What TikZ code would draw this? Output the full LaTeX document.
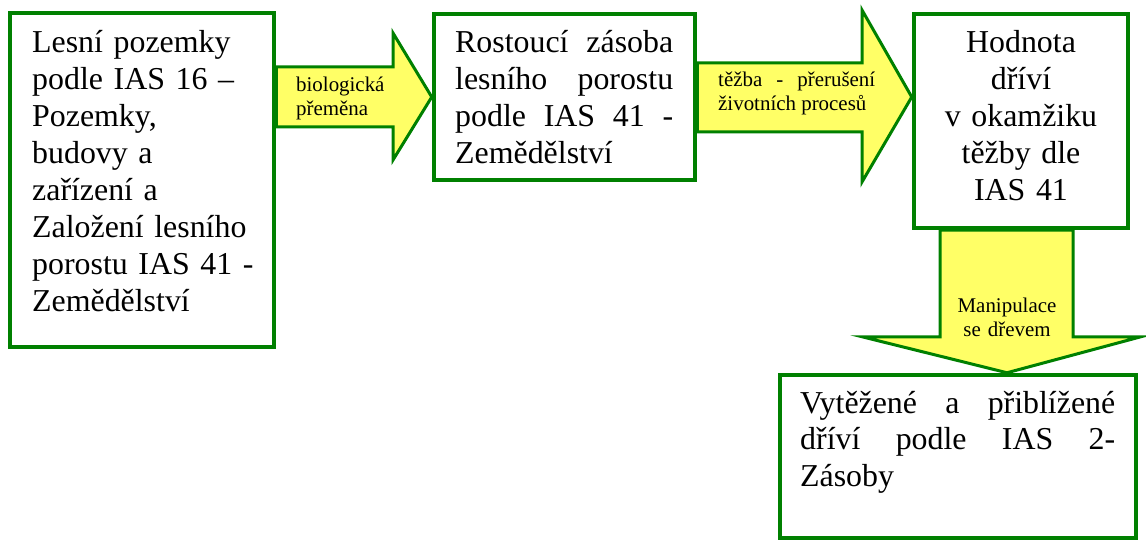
\documentclass[tikz,border=0pt]{standalone}
\usepackage{fontspec}
\setmainfont{Liberation Serif}
\usetikzlibrary{calc}
\definecolor{bgreen}{RGB}{0,128,0}
\definecolor{byellow}{RGB}{255,255,102}
\tikzset{
  box/.style={draw=bgreen, line width=4.5bp, fill=white, inner sep=0pt},
  blockarrow/.style={draw=bgreen, line width=3bp, fill=byellow, line join=miter},
  bigtext/.style={font=\fontsize{32}{37}\selectfont, inner sep=0pt, anchor=base west},
  smalltext/.style={font=\fontsize{21}{24}\selectfont, inner sep=0pt, anchor=base west},
}
\begin{document}
\begin{tikzpicture}[x=1bp,y=-1bp]
\useasboundingbox (0,0) rectangle (1146,540);
% box outlines (positions)
\path
  node[box, minimum width=264bp, minimum height=334bp] (b1) at (142,180) {}
  node[box, minimum width=261bp, minimum height=166bp] (b2) at (564.5,97) {}
  node[box, minimum width=214bp, minimum height=214bp] (b3) at (1021,121) {}
  node[box, minimum width=356bp, minimum height=163bp] (b4) at (958,456.5) {};
% block arrows
\coordinate (t1) at (b2.west);
\draw[blockarrow] ($(b1.east |- t1)+(0,-30)$) -- (393,67) -- (393,33) -- (t1)
  -- (393,160) -- (393,127) -- ($(b1.east |- t1)+(0,30)$) -- cycle;
\coordinate (t2) at (b3.west |- b2.east);
\draw[blockarrow] ($(b2.east |- t2)+(0,-34)$) -- (862,63) -- (862,10) -- (t2)
  -- (862,182) -- (862,132) -- ($(b2.east |- t2)+(0,35)$) -- cycle;
\coordinate (c3) at (1007,0);
\coordinate (t3) at (c3 |- b4.north);
\draw[blockarrow] (940,0 |- b3.south) -- (940,337) -- (863,337) -- (t3)
  -- (1140,337) -- (1073,337) -- (1073,0 |- b3.south) -- cycle;
% redraw boxes on top
\path
  node[box, minimum width=264bp, minimum height=334bp] at (b1) {}
  node[box, minimum width=261bp, minimum height=166bp] at (b2) {}
  node[box, minimum width=214bp, minimum height=214bp] at (b3) {}
  node[box, minimum width=356bp, minimum height=163bp] at (b4) {};
% texts
\node[bigtext, text width=240bp, align=left] (x1) at (32,53)
  {Lesní pozemky\\ podle IAS 16 –\\ Pozemky,\\ budovy a\\ zařízení a\\ Založení lesního\\ porostu IAS 41 -\\ Zemědělství};
\node[bigtext, text width=218bp, align=justify] (x2) at (455,53)
  {Rostoucí zásoba\linebreak lesního porostu\linebreak podle IAS 41 -\linebreak Zemědělství};
\node[bigtext, anchor=base, text width=214bp, align=center] (x3) at (1021,53)
  {Hodnota\\ dříví\\ v okamžiku\\ těžby dle\\ IAS 41};
\node[bigtext, text width=315bp, align=justify] (x4) at (800,413)
  {Vytěžené a přiblížené\linebreak dříví podle IAS 2-\linebreak Zásoby};
\node[smalltext, text width=100bp, align=left] (l1) at (296,92) {biologická\\ přeměna};
\node[smalltext, text width=157bp, align=justify] (l2) at (718,87) {těžba - přerušení\linebreak životních procesů};
\node[smalltext, anchor=base, text width=120bp, align=center] (l3) at (1007,313) {Manipulace\\ se dřevem};
\end{tikzpicture}
\end{document}
